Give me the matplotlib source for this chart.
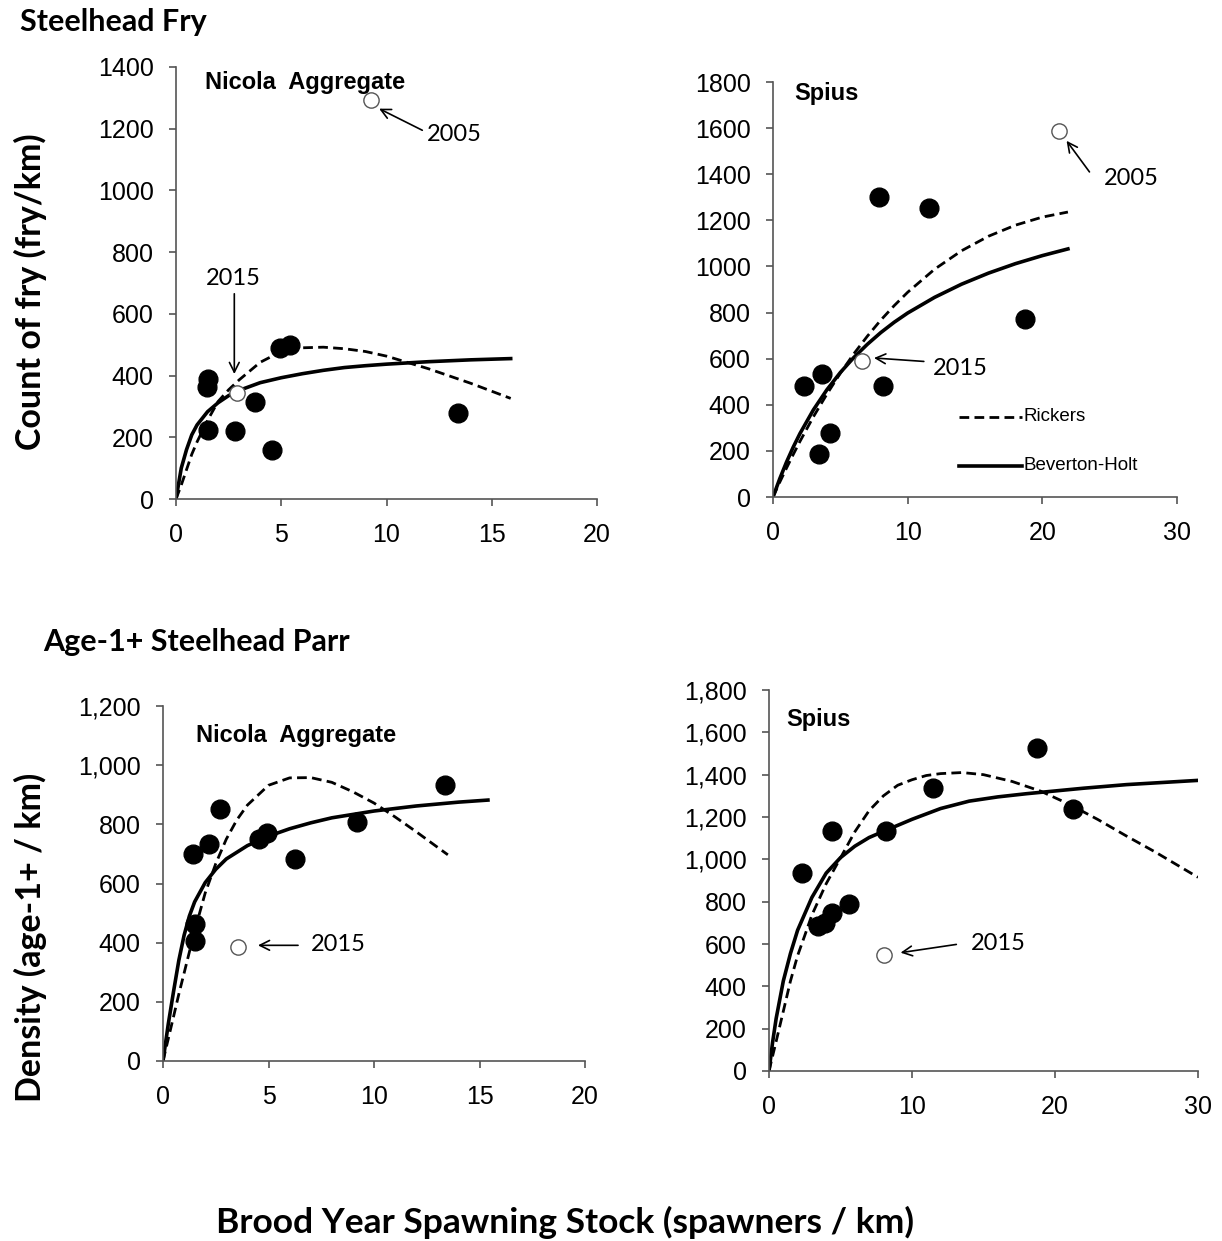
import matplotlib
matplotlib.use("Agg")
import matplotlib.pyplot as plt
from matplotlib.ticker import StrMethodFormatter

# --- data ---
# Steelhead fry, Nicola Aggregate
nic_fry_S = [1.54, 1.49, 1.54, 2.82, 3.73, 4.58, 4.95, 5.40, 13.4]
nic_fry_R = [390, 364, 224, 219, 315, 158, 488, 500, 278]
nic_fry_open_S = [2.88, 9.27]
nic_fry_open_R = [342, 1293]
nic_fry_curve_S = [0, 0.25, 0.5, 0.75, 1, 1.5, 2, 2.5, 3, 4, 5, 6, 7, 8, 9, 10, 12, 14, 15.9]
nic_fry_bh = [0, 100, 160, 208, 240, 283, 312, 335, 352, 377, 393, 406, 417, 426, 432, 437, 445, 451, 455]
nic_fry_rk = [0, 45, 95, 145, 185, 255, 316, 354, 386, 443, 478, 490, 492, 487, 478, 463, 422, 375, 326]

# Steelhead fry, Spius
sp_fry_S = [2.27, 3.67, 3.41, 4.22, 7.86, 8.16, 11.59, 18.7]
sp_fry_R = [483, 534, 188, 279, 1301, 483, 1253, 774]
sp_fry_open_S = [6.64, 21.26]
sp_fry_open_R = [591, 1588]
sp_fry_curve_S = [0, 0.5, 1, 1.5, 2, 3, 4, 5, 6, 7, 8, 9, 10, 12, 14, 16, 18, 20, 21.9]
sp_fry_bh = [0, 79, 151, 216, 275, 378, 465, 540, 605, 662, 713, 758, 798, 866, 923, 971, 1012, 1047, 1076]
sp_fry_rk = [0, 64, 125, 184, 241, 348, 446, 537, 621, 697, 767, 830, 888, 988, 1068, 1131, 1179, 1214, 1236]

# Age-1+ parr, Nicola Aggregate
nic_parr_S = [1.41, 1.54, 1.54, 2.16, 2.69, 4.54, 4.94, 6.25, 9.2, 13.37]
nic_parr_R = [701, 462, 406, 732, 851, 749, 770, 682, 809, 932]
nic_parr_open_S = [3.57]
nic_parr_open_R = [385]
nic_parr_bh_S = [0, 0.25, 0.5, 0.75, 1, 1.25, 1.5, 2, 2.5, 3, 4, 5, 6, 7, 8, 10, 12, 14, 15.4]
nic_parr_bh = [0, 125, 235, 340, 425, 490, 538, 603, 648, 683, 728, 760, 785, 805, 822, 845, 862, 875, 882]
nic_parr_rk_S = [0, 0.25, 0.5, 0.75, 1, 1.5, 2, 2.5, 3, 3.5, 4, 5, 6, 7, 8, 9, 10, 11, 12, 13.5]
nic_parr_rk = [0, 75, 150, 226, 297, 440, 568, 667, 750, 815, 865, 932, 957, 958, 942, 910, 872, 825, 775, 697]

# Age-1+ parr, Spius
sp_parr_S = [2.29, 4.42, 3.46, 3.9, 4.42, 5.56, 8.15, 11.45, 18.73, 21.27]
sp_parr_R = [937, 1134, 685, 700, 748, 787, 1134, 1335, 1528, 1236]
sp_parr_open_S = [8.02]
sp_parr_open_R = [548]
sp_parr_bh_S = [0, 0.25, 0.5, 1, 1.5, 2, 3, 4, 5, 6, 7, 8, 10, 12, 14, 16, 18, 20, 22, 25, 30]
sp_parr_bh = [0, 135, 248, 425, 555, 665, 820, 935, 1008, 1062, 1103, 1132, 1189, 1240, 1275, 1295, 1310, 1323, 1336, 1353, 1373]
sp_parr_rk_S = [0, 0.5, 1, 1.5, 2, 2.5, 3, 4, 5, 6, 7, 8, 9, 10, 11, 12, 13.5, 15, 17, 19, 21, 23, 25, 27, 30]
sp_parr_rk = [0, 140, 282, 425, 545, 640, 737, 885, 1007, 1130, 1230, 1300, 1350, 1376, 1396, 1405, 1410, 1400, 1368, 1322, 1260, 1188, 1110, 1035, 915]

W, H = 1222, 1241
fig = plt.figure(figsize=(W / 100, H / 100), dpi=100)

TICK_FONT = dict(family="Liberation Sans", size=18)
ANN_FONT = dict(family="Lato", size=17)
BOLD = "Lato"


def px_axes(left, right, top, bottom):
    return fig.add_axes([left / W, 1 - bottom / H, (right - left) / W, (bottom - top) / H])


def setup(ax, xmax, xstep, ymax, ystep, commas=False):
    ax.set_xlim(0, xmax)
    ax.set_ylim(0, ymax)
    ax.set_xticks(range(0, xmax + 1, xstep))
    ax.set_yticks(range(0, ymax + 1, ystep))
    for s in ["top", "right"]:
        ax.spines[s].set_visible(False)
    for s in ["left", "bottom"]:
        ax.spines[s].set_color("#555555")
        ax.spines[s].set_linewidth(1.2)
    ax.tick_params(direction="out", length=5, width=1.2, color="#555555", labelcolor="black")
    ax.tick_params(axis="x", pad=12)
    ax.tick_params(axis="y", pad=11)
    if commas:
        ax.yaxis.set_major_formatter(StrMethodFormatter("{x:,.0f}"))
    for lab in ax.get_xticklabels() + ax.get_yticklabels():
        lab.set_fontfamily(TICK_FONT["family"])
        lab.set_fontsize(TICK_FONT["size"])


def draw(ax, S, R, oS, oR, bS, bR, rS, rR):
    ax.plot(rS, rR, color="black", lw=2.0, linestyle=(0, (3.5, 1.9)), zorder=2)
    ax.plot(bS, bR, color="black", lw=2.6, zorder=2)
    ax.plot(S, R, "o", color="black", ms=13.5, zorder=3, clip_on=False)
    ax.plot(oS, oR, "o", mfc="white", mec="#555555", mew=1.0, ms=11, zorder=3, clip_on=False)


def arrow(ax, text, tip, tail, txt_xy, ha="left"):
    ax.annotate("", xy=tip, xytext=tail,
                arrowprops=dict(arrowstyle="->,head_length=0.7,head_width=0.35", color="black", lw=1.2,
                                shrinkA=0, shrinkB=0))
    ax.text(txt_xy[0], txt_xy[1], text, ha=ha, va="center", **ANN_FONT)


PANEL = dict(family="Liberation Sans", weight="bold", size=17, va="center")

# top-left: fry, Nicola
ax1 = px_axes(176, 597, 67, 499)
draw(ax1, nic_fry_S, nic_fry_R, nic_fry_open_S, nic_fry_open_R,
     nic_fry_curve_S, nic_fry_bh, nic_fry_curve_S, nic_fry_rk)
setup(ax1, 20, 5, 1400, 200)
ax1.text(1.4, 1350, "Nicola  Aggregate", **PANEL)
arrow(ax1, "2005", (9.65, 1265), (11.7, 1195), (11.9, 1180))
arrow(ax1, "2015", (2.77, 405), (2.77, 665), (2.7, 715), ha="center")

# top-right: fry, Spius
ax2 = px_axes(773, 1177, 82, 497)
draw(ax2, sp_fry_S, sp_fry_R, sp_fry_open_S, sp_fry_open_R,
     sp_fry_curve_S, sp_fry_bh, sp_fry_curve_S, sp_fry_rk)
setup(ax2, 30, 10, 1800, 200)
ax2.text(1.6, 1750, "Spius", **PANEL)
arrow(ax2, "2005", (21.8, 1545), (23.5, 1410), (24.6, 1380))
arrow(ax2, "2015", (7.5, 603), (11.2, 588), (11.9, 558))
# legend drawn as in the original (lines with labels to the right)
ax2.plot([13.8, 18.5], [347, 347], color="black", lw=2.0, linestyle=(0, (3.5, 1.9)))
ax2.plot([13.8, 18.5], [135, 135], color="black", lw=2.6)
ax2.text(18.6, 347, "Rickers", family="Liberation Sans", size=13.5, va="center")
ax2.text(18.6, 135, "Beverton-Holt", family="Liberation Sans", size=13.5, va="center")

# bottom-left: parr, Nicola
ax3 = px_axes(163, 585, 706, 1061)
draw(ax3, nic_parr_S, nic_parr_R, nic_parr_open_S, nic_parr_open_R,
     nic_parr_bh_S, nic_parr_bh, nic_parr_rk_S, nic_parr_rk)
setup(ax3, 20, 5, 1200, 200, commas=True)
ax3.text(1.55, 1100, "Nicola  Aggregate", **PANEL)
arrow(ax3, "2015", (4.5, 391), (6.4, 391), (7.0, 395))

# bottom-right: parr, Spius
ax4 = px_axes(769, 1198, 690, 1071)
draw(ax4, sp_parr_S, sp_parr_R, sp_parr_open_S, sp_parr_open_R,
     sp_parr_bh_S, sp_parr_bh, sp_parr_rk_S, sp_parr_rk)
setup(ax4, 30, 10, 1800, 200, commas=True)
ax4.text(1.2, 1660, "Spius", **PANEL)
arrow(ax4, "2015", (9.2, 559), (13.1, 598), (14.1, 600))

# headings and axis labels
fig.text(20 / W, 1 - 22 / H, "Steelhead Fry", family=BOLD, weight="bold", size=22, va="center")
fig.text(43 / W, 1 - 642 / H, "Age-1+ Steelhead Parr", family=BOLD, weight="bold", size=22, va="center")
fig.text(30 / W, 1 - 292 / H, "Count of fry (fry/km)", family=BOLD, weight="bold", size=24.5,
         rotation=90, ha="center", va="center")
fig.text(30 / W, 1 - 937 / H, "Density (age-1+ / km)", family=BOLD, weight="bold", size=24.5,
         rotation=90, ha="center", va="center")
fig.text(565 / W, 1 - 1222 / H, "Brood Year Spawning Stock (spawners / km)", family=BOLD,
         weight="bold", size=25.5, ha="center", va="center")

fig.savefig("out.png", dpi=100, facecolor="white")
